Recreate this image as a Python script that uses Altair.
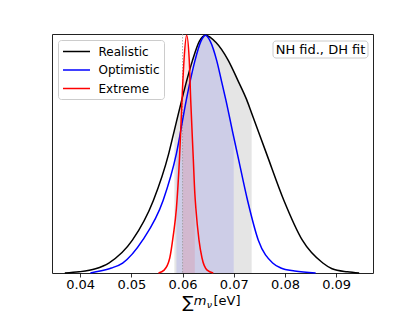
import altair as alt
import pandas as pd

# --- values ---
series_names = ["Realistic", "Optimistic", "Extreme"]
series_colors = ["black", "blue", "red"]

real_x = [0.0370, 0.0398, 0.0430, 0.0456, 0.0502, 0.0543, 0.0573, 0.0584, 0.0598,
          0.0608, 0.0619, 0.0633, 0.0645, 0.0665, 0.0689, 0.0708, 0.0725, 0.0735,
          0.0764, 0.0798, 0.0834, 0.0874, 0.0892, 0.0922, 0.0945]
real_y = [0.0, 0.005, 0.018, 0.042, 0.138, 0.305, 0.502, 0.600, 0.724,
          0.808, 0.891, 0.975, 1.0, 0.970, 0.895, 0.810, 0.730, 0.672,
          0.502, 0.305, 0.138, 0.042, 0.018, 0.005, 0.0]

opt_x = [0.0420, 0.0439, 0.0461, 0.0483, 0.0522, 0.0562, 0.0588, 0.0607, 0.0615,
         0.0624, 0.0636, 0.0645, 0.0654, 0.0667, 0.0676, 0.0685, 0.0700, 0.0707,
         0.0727, 0.0748, 0.0776, 0.0792, 0.0819, 0.0860]
opt_y = [0.0, 0.008, 0.021, 0.042, 0.138, 0.305, 0.502, 0.724, 0.808,
         0.891, 0.975, 1.0, 0.975, 0.891, 0.808, 0.724, 0.571, 0.502,
         0.305, 0.138, 0.042, 0.021, 0.008, 0.0]

ext_x = [0.0553, 0.0564, 0.0575, 0.0582, 0.0588, 0.0594, 0.0600, 0.0603, 0.0608,
         0.0613, 0.0616, 0.0621, 0.0624, 0.0626, 0.0632, 0.0638, 0.0648, 0.0660]
ext_y = [0.0, 0.012, 0.063, 0.160, 0.272, 0.480, 0.780, 0.900, 1.0,
         0.900, 0.724, 0.480, 0.334, 0.272, 0.140, 0.063, 0.012, 0.0]

# shaded credible intervals
real_band = [0.0584, 0.0735]
opt_band = [0.0588, 0.0700]
ext_band = [0.0600, 0.0624]

fiducial = [0.06]
x_ticks = [0.04, 0.05, 0.06, 0.07, 0.08, 0.09]
x_domain = [0.0345, 0.0972]
box_label = ["NH fid., DH fit"]
title_parts = ["∑", "m", "ν", "[eV]"]

FONT = "DejaVu Sans"

# --- tables ---
curves = [("Realistic", real_x, real_y, real_band),
          ("Optimistic", opt_x, opt_y, opt_band),
          ("Extreme", ext_x, ext_y, ext_band)]
rows = []
for name, xs, ys, _ in curves:
    for xv, yv in zip(xs, ys):
        rows.append({"x": xv, "y": yv, "series": name})
df = pd.DataFrame(rows)

def band_df(xs, ys, band):
    return pd.DataFrame([{"x": xv, "y": yv} for xv, yv in zip(xs, ys)
                         if band[0] - 1e-9 <= xv <= band[1] + 1e-9])

xenc = alt.X("x:Q", scale=alt.Scale(domain=x_domain, nice=False, zero=False),
             axis=alt.Axis(values=x_ticks, format=".2f", title=None, grid=False, domain=False,
                           ticks=True, tickSize=4, tickColor="black", tickWidth=0.8,
                           labelFont=FONT, labelFontSize=13, labelColor="black", labelPadding=1))
yenc = alt.Y("y:Q", scale=alt.Scale(domain=[0, 1.005], nice=False), axis=None)

fills = []
for (name, xs, ys, band), col in zip(curves, series_colors):
    fills.append(alt.Chart(band_df(xs, ys, band)).mark_area(
        interpolate="monotone", color=col, opacity=0.1).encode(x=xenc, y=yenc))

rule = alt.Chart(pd.DataFrame({"x": fiducial})).mark_rule(
    color="#999999", strokeWidth=0.8, strokeDash=[1.5, 1.5]
).encode(x=xenc)

lines = alt.Chart(df).mark_line(interpolate="monotone", strokeWidth=1.5).encode(
    x=xenc, y=yenc,
    color=alt.Color("series:N", scale=alt.Scale(domain=series_names, range=series_colors),
                    legend=alt.Legend(title=None, orient="top-left", offset=6)),
)

box = alt.Chart(pd.DataFrame({"t": box_label})).mark_rect(
    fill="white", stroke="#cccccc", cornerRadius=3, strokeWidth=1
).encode(x=alt.value(221), x2=alt.value(316), y=alt.value(7), y2=alt.value(24))

box_text = alt.Chart(pd.DataFrame({"t": box_label})).mark_text(
    font=FONT, fontSize=13, color="black", align="center", baseline="middle"
).encode(x=alt.value(268.5), y=alt.value(16), text="t:N")

def tmark(txt, x, y, size, style="normal", align="left"):
    return alt.Chart(pd.DataFrame({"t": [txt]})).mark_text(
        font=FONT, fontSize=size, fontStyle=style, color="black", align=align, baseline="alphabetic"
    ).encode(x=alt.value(x), y=alt.value(y), text="t:N")

t_sum = tmark(title_parts[0], 136.0, 273.5, 16.5, align="center")
t_m = tmark(title_parts[1], 148.0, 271, 13, style="italic", align="center")
t_nu = tmark(title_parts[2], 157.4, 274, 9.5, style="italic", align="center")
t_ev = tmark(title_parts[3], 161.5, 271, 13)

chart = alt.layer(*fills, rule, lines, box, box_text, t_sum, t_m, t_nu, t_ev).properties(
    width=321, height=239,
    padding={"left": 44, "top": 26, "right": 20, "bottom": 40},
    autosize="none",
).configure_view(stroke="#222222", strokeWidth=1).configure_legend(
    symbolType="M-2,0L2,0", symbolSize=182, symbolStrokeWidth=1.5, symbolOffset=7,
    labelFont=FONT, labelFontSize=12, labelColor="black",
    labelOffset=14.5, padding=4, rowPadding=4.5,
    strokeColor="#cccccc", fillColor="white", cornerRadius=3,
)

chart.save("out.html", embed_options={"renderer": "svg", "actions": False})
